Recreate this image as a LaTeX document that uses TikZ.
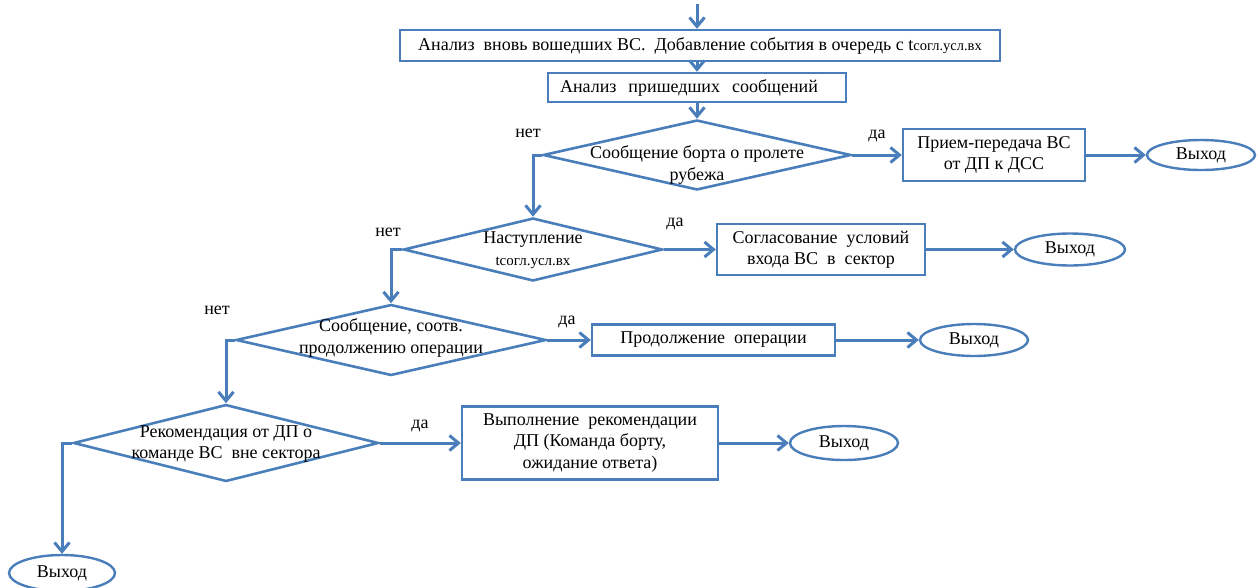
\documentclass[tikz,border=0pt]{standalone}
\usepackage{fontspec}
\setmainfont{Liberation Serif}
\usetikzlibrary{shapes.geometric,arrows.meta}
\definecolor{flow}{HTML}{4A7EBB}
\newcommand{\tsub}{t{\fontsize{14.5}{16}\selectfont согл.усл.вх}}
\begin{document}
\begin{tikzpicture}[x=1pt,y=-1pt,
  font=\fontsize{18}{21.5}\selectfont,
  box/.style={draw=flow,line width=2.4pt,rectangle,inner sep=0pt,align=center},
  dia/.style={draw=flow,line width=2.6pt,diamond,inner sep=0pt},
  term/.style={draw=flow,line width=2.4pt,ellipse,inner sep=0pt},
  flowarr/.style={draw=flow,line width=3pt,-{Straight Barb[length=9pt,width=15pt]}},
  txt/.style={inner sep=0pt,align=center},
  lbl/.style={inner sep=0pt}]
\useasboundingbox (0,0) rectangle (1258,587);

% process boxes
\node[box,minimum width=600,minimum height=31] (b1) at (700,45.5)
  {Анализ\ \ вновь вошедших ВС.\ \ Добавление события в очередь с \tsub};
\node[box,minimum width=298,minimum height=29,text width=274,align=left,inner xsep=12pt] (b2) at (697,87.5)
  {Анализ\ \ пришедших\ \ сообщений};

% decisions
\node[dia,minimum width=308,minimum height=70] (d1) at (697,155) {};
\node[txt] (t1) at (697,165) {Сообщение борта о пролете\\рубежа};
\node[dia,minimum width=259,minimum height=63] (d2) at (533,249.5) {};
\node[txt] (t2) at (533,250) {Наступление\\{\fontsize{15}{19}\selectfont tсогл.усл.вх}};
\node[dia,minimum width=310,minimum height=71] (d3) at (391,340) {};
\node[txt] (t3) at (391,338) {Сообщение, соотв.\\продолжению операции};
\node[dia,minimum width=305,minimum height=77] (d4) at (226,443) {};
\node[txt] (t4) at (226,444) {Рекомендация от ДП о\\команде ВС\ \ вне сектора};

% actions
\node[box,minimum width=182,minimum height=52] (b3) at (994,155)
  {Прием-передача ВС\\от ДП к ДСС};
\node[box,minimum width=208,minimum height=51] (b4) at (821,249.5)
  {Согласование\ \ условий\\входа ВС\ \ в\ \ сектор};
\node[box,minimum width=243,minimum height=31] (b5) at (713.5,340)
  {Продолжение\ \ операции};
\node[box,minimum width=256,minimum height=73] (b6) at (590,443)
  {Выполнение\ \ рекомендации\\ДП (Команда борту,\\ожидание ответа)};

% terminators
\node[term,minimum width=108,minimum height=30] (o1) at (1201,155) {Выход};
\node[term,minimum width=110,minimum height=32] (o2) at (1070,249.5) {Выход};
\node[term,minimum width=108,minimum height=32] (o3) at (974,340) {Выход};
\node[term,minimum width=108,minimum height=34] (o4) at (844,443) {Выход};
\node[term,minimum width=106,minimum height=36] (o5) at (62,573) {Выход};

% branch labels
\node[lbl] (n1) at (528,133) {нет};
\node[lbl] (y1) at (877,136) {да};
\node[lbl] (n2) at (388,232) {нет};
\node[lbl] (y2) at (675,224) {да};
\node[lbl] (n3) at (217,310) {нет};
\node[lbl] (y3) at (567,322) {да};
\node[lbl] (y4) at (420,426) {да};

% main flow
\coordinate (in) at (697,4);
\draw[flowarr] (in) -- (in |- b1.north);
\draw[flowarr] (b1.south -| b2.north) -- (b2.north);
\draw[flowarr] (b2.south) -- (d1.north);

% "yes" branches
\draw[flowarr] (d1.east) -- (b3.west);
\draw[flowarr] (b3.east) -- (o1.west);
\draw[flowarr] (d2.east) -- (b4.west);
\draw[flowarr] (b4.east) -- (o2.west);
\draw[flowarr] (d3.east) -- (b5.west);
\draw[flowarr] (b5.east) -- (o3.west);
\draw[flowarr] (d4.east) -- (b6.west);
\draw[flowarr] (b6.east) -- (o4.west);

% "no" branches
\draw[flowarr] (d1.west) -| (d2.north);
\draw[flowarr] (d2.west) -| (d3.north);
\draw[flowarr] (d3.west) -| (d4.north);
\draw[flowarr] (d4.west) -| (o5.north);
\end{tikzpicture}
\end{document}
